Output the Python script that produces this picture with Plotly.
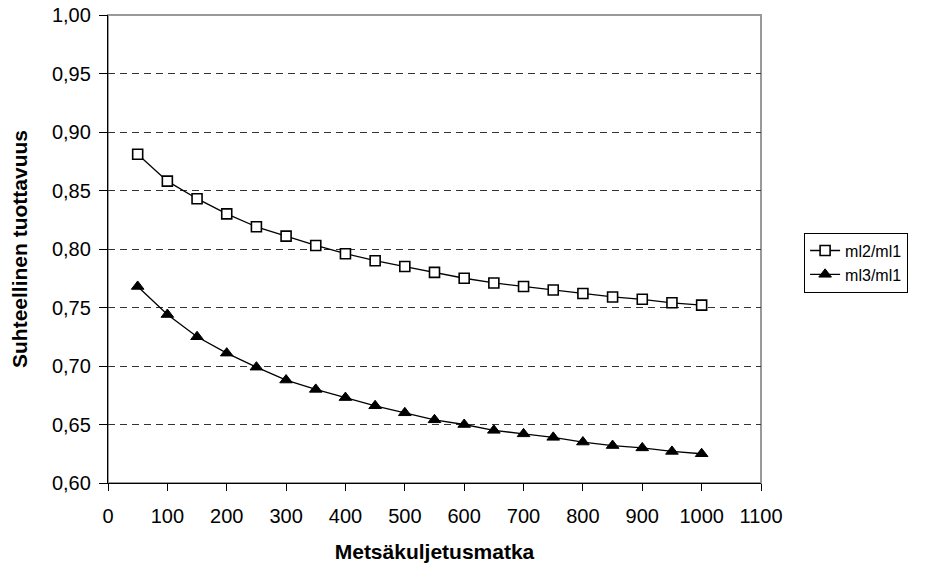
import plotly.graph_objects as go

# Forwarding distance (m)
distance = [50, 100, 150, 200, 250, 300, 350, 400, 450, 500,
            550, 600, 650, 700, 750, 800, 850, 900, 950, 1000]

# Relative productivity ratios
ml2_ml1 = [0.881, 0.858, 0.843, 0.830, 0.819, 0.811, 0.803, 0.796, 0.790, 0.785,
           0.780, 0.775, 0.771, 0.768, 0.765, 0.762, 0.759, 0.757, 0.754, 0.752]
ml3_ml1 = [0.768, 0.744, 0.725, 0.711, 0.699, 0.688, 0.680, 0.673, 0.666, 0.660,
           0.654, 0.650, 0.645, 0.642, 0.639, 0.635, 0.632, 0.630, 0.627, 0.625]

x_ticks = list(range(0, 1101, 100))
y_ticks = [0.60, 0.65, 0.70, 0.75, 0.80, 0.85, 0.90, 0.95, 1.00]

FONT = "Arial, 'Liberation Sans', sans-serif"

fig = go.Figure()
fig.add_trace(go.Scatter(
    x=distance, y=ml2_ml1, name="ml2/ml1", mode="lines+markers",
    line=dict(color="black", width=1.3),
    marker=dict(symbol="square", size=10, color="white",
                line=dict(color="black", width=1.6)),
))
fig.add_trace(go.Scatter(
    x=distance, y=ml3_ml1, name="ml3/ml1", mode="lines+markers",
    line=dict(color="black", width=1.3),
    marker=dict(symbol="triangle-up", size=11, color="black",
                line=dict(color="black", width=1)),
))

# Gray frame around the plot area (top and right edges show)
fig.add_shape(type="rect", xref="paper", yref="paper", x0=0, y0=0, x1=1, y1=1,
              line=dict(color="#999999", width=2), layer="below")

fig.update_layout(
    width=949, height=574,
    margin=dict(l=108, r=188, t=15, b=91),
    paper_bgcolor="white", plot_bgcolor="white",
    separators=", ",
    font=dict(family=FONT, size=20, color="black"),
    showlegend=True,
    legend=dict(
        x=1.066, y=0.535, xanchor="left", yanchor="top",
        bordercolor="black", borderwidth=1, bgcolor="white",
        font=dict(family=FONT, size=16, color="black"),
        itemwidth=30, tracegroupgap=0,
    ),
    xaxis=dict(
        range=[0, 1100], tickvals=x_ticks, ticktext=[str(v) for v in x_ticks],
        showgrid=False, zeroline=False, automargin=False,
        showline=True, linecolor="black", linewidth=1.3,
        ticks="outside", ticklen=7, tickcolor="black", tickwidth=1,
        ticklabelstandoff=8,
        tickfont=dict(family=FONT, size=20),
        title=dict(text="<b>Metsäkuljetusmatka</b>", font=dict(family=FONT, size=21), standoff=18),
    ),
    yaxis=dict(
        range=[0.60, 1.00], tickvals=y_ticks, tickformat=".2f",
        showgrid=True, gridcolor="#333333", gridwidth=1, griddash="7px,5px",
        zeroline=False, automargin=False,
        showline=True, linecolor="black", linewidth=1.3,
        ticks="outside", ticklen=8, tickcolor="black", tickwidth=1,
        ticklabelstandoff=4,
        tickfont=dict(family=FONT, size=20),
        title=dict(text="<b>Suhteellinen tuottavuus</b>", font=dict(family=FONT, size=21), standoff=18),
    ),
)

fig.write_html("out.html")
